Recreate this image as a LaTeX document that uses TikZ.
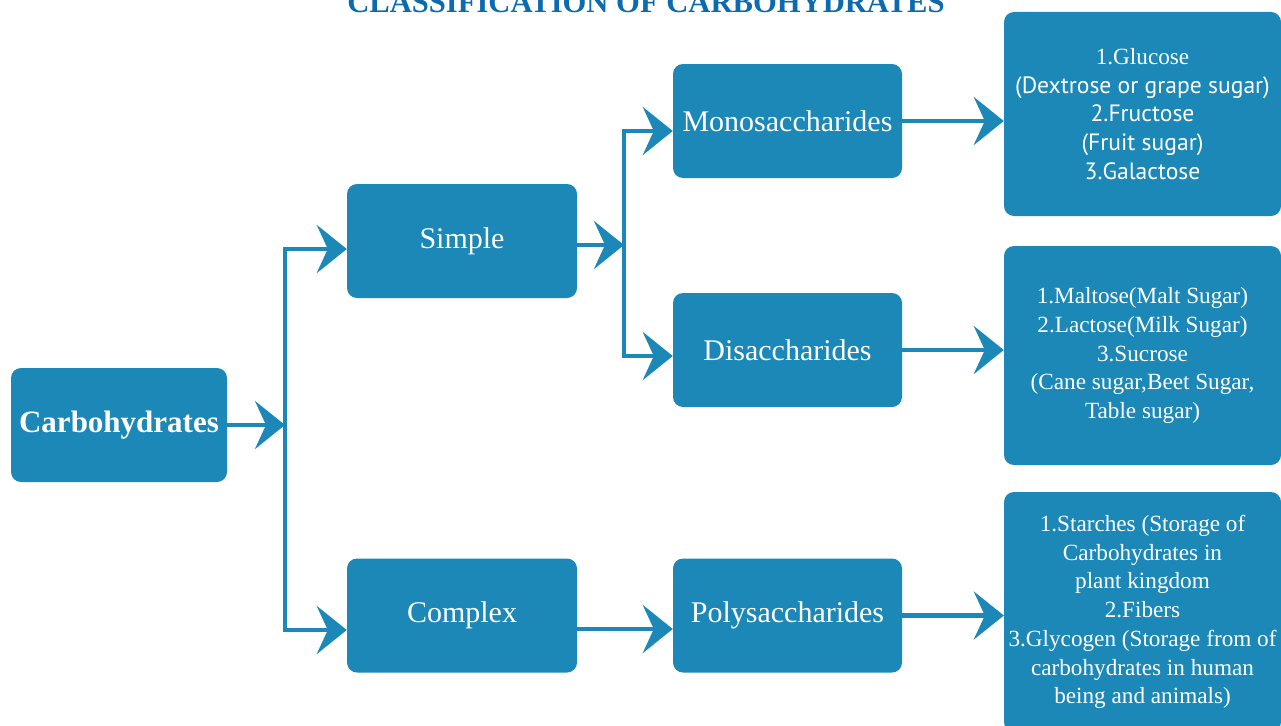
\documentclass[tikz,border=0pt]{standalone}
\usepackage{fontspec}
\setmainfont{Liberation Serif}
\newfontfamily\sansf{PT Sans}
\usetikzlibrary{arrows.meta}
\definecolor{boxblue}{RGB}{27,136,183}
\definecolor{titleblue}{RGB}{12,106,174}
\tikzset{
  box/.style={draw=none, fill=boxblue, rounded corners=10pt, text=white, align=center, inner sep=0pt},
  midbox/.style={box, minimum width=230pt, minimum height=114pt, font=\fontsize{30}{32}\selectfont},
  listbox/.style={box, minimum width=277pt, font=\fontsize{23.2}{28.7}\selectfont},
  conn/.style={draw=boxblue, line width=4.5pt},
  arr/.style={conn, -{Stealth[length=30pt,width=48pt,inset=11pt]}},
}
\begin{document}
\begin{tikzpicture}[x=1pt,y=-1pt]
\useasboundingbox (0,0) rectangle (1281,725);
\clip (0,0) rectangle (1281,725);
\node[font=\bfseries\fontsize{30.6}{32}\selectfont, text=titleblue, anchor=base] (title) at (646,13) {CLASSIFICATION OF CARBOHYDRATES};

\node[midbox, minimum width=216pt, font=\bfseries\fontsize{31}{32}\selectfont] (carb) at (119,425) {Carbohydrates};
\node[midbox] (simple) at (462,241) {Simple};
\node[midbox] (complex) at (462,615.5) {Complex};
\node[midbox, minimum width=229pt] (mono) at (787.5,121) {Monosaccharides};
\node[midbox, minimum width=229pt] (di) at (787.5,350) {Disaccharides};
\node[midbox, minimum width=229pt] (poly) at (787.5,615.5) {Polysaccharides};

\node[listbox, minimum height=204pt] (l1) at (1142.5,114) {1.Glucose\\{\sansf\fontsize{23.6}{28.7}\selectfont(Dextrose or grape sugar)}\\{\sansf\fontsize{23.6}{28.7}\selectfont 2.Fructose}\\{\sansf\fontsize{23.6}{28.7}\selectfont(Fruit sugar)}\\{\sansf\fontsize{23.6}{28.7}\selectfont 3.Galactose}};
\node[listbox, minimum height=219pt] (l2) at (1142.5,355.5) {1.Maltose(Malt Sugar)\\2.Lactose(Milk Sugar)\\3.Sucrose\\(Cane sugar,Beet Sugar,\\Table sugar)};
\node[listbox, minimum height=240pt] (l3) at (1142.5,612) {1.Starches (Storage of\\Carbohydrates in\\plant kingdom\\2.Fibers\\3.Glycogen (Storage from of\\carbohydrates in human\\being and animals)};

% junctions
\coordinate (ja) at (285,425);
\coordinate (jat) at (285,249);
\coordinate (jab) at (285,630);
\coordinate (jb) at (624,245);
\coordinate (jbt) at (624,131);
\coordinate (jbb) at (624,356);

\draw[arr] (carb.east |- ja) -- (ja);
\draw[conn] (jat) -- (jab);
\draw[arr] ([xshift=-2.25pt]jat) -- (simple.west |- jat);
\draw[arr] ([xshift=-2.25pt]jab) -- (complex.west |- jab);

\draw[arr] (simple.east |- jb) -- (jb);
\draw[conn] (jbt) -- (jbb);
\draw[arr] ([xshift=-2.25pt]jbt) -- (mono.west |- jbt);
\draw[arr] ([xshift=-2.25pt]jbb) -- (di.west |- jbb);

\draw[arr] (complex.east |- 0,629) -- (poly.west |- 0,629);
\draw[arr] (mono.east) -- (l1.west |- mono.east);
\draw[arr] (di.east) -- (l2.west |- di.east);
\draw[arr] (poly.east) -- (l3.west |- poly.east);
\end{tikzpicture}
\end{document}
